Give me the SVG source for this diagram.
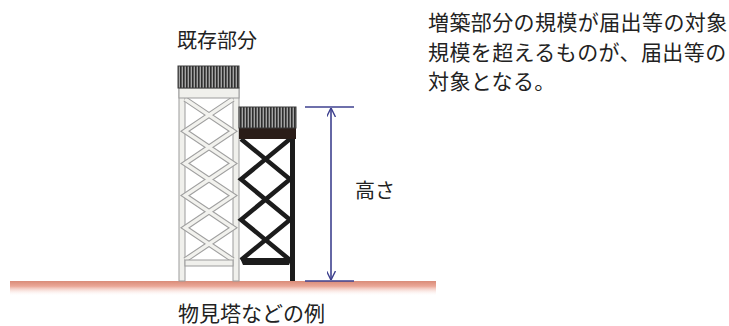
<svg xmlns="http://www.w3.org/2000/svg" width="729" height="326" viewBox="0 0 729 326">
  <style>
    .txt { font-family: "Noto Sans CJK JP", "Noto Sans", sans-serif; fill: #222; }
    .leg-light { fill: #f0f0ec; stroke: #9c9c9c; stroke-width: 1; }
    .brace-edge { fill: none; stroke: #a0a0a0; stroke-width: 5.6; stroke-linejoin: miter; }
    .brace-core { fill: none; stroke: #f2f2ee; stroke-width: 3.4; stroke-linejoin: miter; }
    .brace-dark { fill: none; stroke: #1c1c1c; stroke-width: 4.5; stroke-linejoin: miter; }
    .dim { stroke: #3e418f; stroke-width: 1.6; fill: none; }
  </style>
  <defs>
    <pattern id="hatch" width="3" height="10" patternUnits="userSpaceOnUse">
      <rect width="3" height="10" fill="#a4a4a4"/>
      <rect x="0" width="1.6" height="10" fill="#2e2e2e"/>
    </pattern>
    <linearGradient id="ground" x1="0" y1="0" x2="0" y2="1">
      <stop offset="0" stop-color="#d98b78"/>
      <stop offset="0.35" stop-color="#eba898"/>
      <stop offset="1" stop-color="#ffffff" stop-opacity="0"/>
    </linearGradient>
    <marker id="chev" viewBox="0 0 10 10" refX="10" refY="5" markerWidth="9" markerHeight="9" orient="auto-start-reverse" markerUnits="userSpaceOnUse">
      <path d="M0,0 L10,5 L0,10" fill="none" stroke="#3e418f" stroke-width="1.6"/>
    </marker>
  </defs>

  <!-- ground -->
  <rect id="ground" x="10" y="281" width="426" height="15" fill="url(#ground)"/>

  <!-- existing tower (light) -->
  <g id="tower-existing">
    <rect class="leg-light" x="179" y="88" width="6" height="193"/>
    <rect class="leg-light" x="233" y="88" width="6" height="193"/>
    <polyline class="brace-edge" points="185,99 233,131.2 185,163.4 233,195.6 185,227.8 233,260"/>
    <polyline class="brace-edge" points="233,99 185,131.2 233,163.4 185,195.6 233,227.8 185,260"/>
    <polyline class="brace-core" points="185,99 233,131.2 185,163.4 233,195.6 185,227.8 233,260"/>
    <polyline class="brace-core" points="233,99 185,131.2 233,163.4 185,195.6 233,227.8 185,260"/>
    <rect class="leg-light" x="185" y="260" width="48" height="6"/>
    <rect class="leg-light" x="179" y="88" width="60" height="10"/>
    <rect x="178" y="66" width="61" height="22" fill="url(#hatch)" stroke="#3a3a3a" stroke-width="1"/>
  </g>

  <!-- added tower (dark) -->
  <g id="tower-addition">
    <rect x="290" y="128" width="5" height="153" fill="#1c1c1c"/>
    <polyline class="brace-dark" points="241,139 290,179.3 241,219.7 290,260"/>
    <polyline class="brace-dark" points="290,139 241,179.3 290,219.7 241,260"/>
    <polygon points="240,258 292,258 289,265 243,265" fill="#1c1c1c"/>
    <rect x="239" y="128" width="57" height="11" fill="#2a1d18"/>
    <rect x="239" y="107" width="57" height="21" fill="url(#hatch)" stroke="#3a3a3a" stroke-width="1"/>
  </g>

  <!-- height dimension -->
  <g id="connectors">
    <line class="dim" x1="305" y1="107" x2="354" y2="107"/>
    <line class="dim" x1="305" y1="281" x2="354" y2="281"/>
    <line class="dim" x1="331" y1="108" x2="331" y2="280" marker-start="url(#chev)" marker-end="url(#chev)"/>
  </g>

  <!-- labels -->
  <g id="labels">
    <text class="txt" x="177" y="48" font-size="20">既存部分</text>
    <text class="txt" x="355" y="198" font-size="20">高さ</text>
    <text class="txt" x="178" y="321" font-size="21">物見塔などの例</text>
    <text class="txt" x="428" y="30" font-size="21" letter-spacing="0.4">増築部分の規模が届出等の対象</text>
    <text class="txt" x="428" y="60" font-size="21" letter-spacing="0.4">規模を超えるものが、届出等の</text>
    <text class="txt" x="428" y="89" font-size="21" letter-spacing="0.4">対象となる。</text>
  </g>
</svg>
